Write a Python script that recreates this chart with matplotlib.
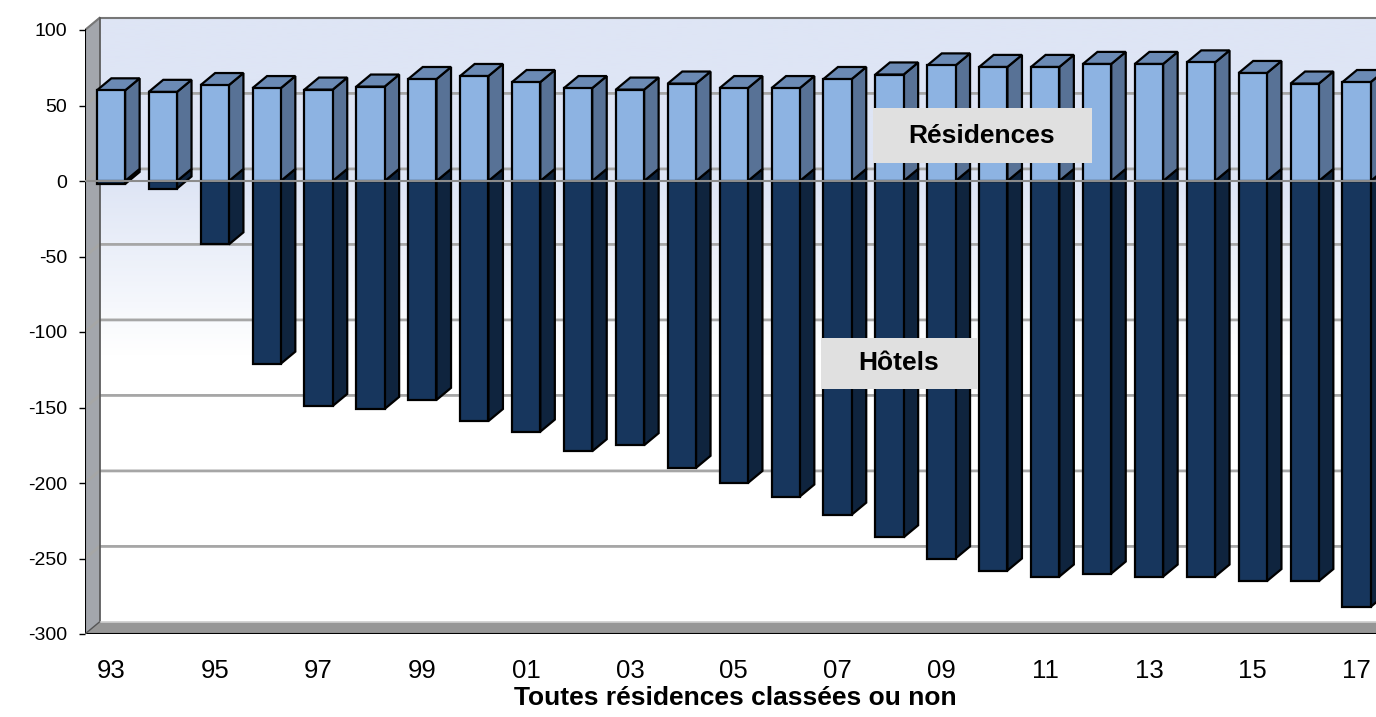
import numpy as np
import matplotlib.pyplot as plt
from matplotlib.patches import Rectangle

# années (axe des catégories)
years = ['93', '94', '95', '96', '97', '98', '99', '00', '01', '02', '03', '04',
         '05', '06', '07', '08', '09', '10', '11', '12', '13', '14', '15', '16', '17']
residences = [60, 59, 63.5, 61.5, 60.5, 62.5, 67.5, 69.5, 65.5, 61.5, 60.5, 64.5,
              61.5, 61.5, 67.5, 70.5, 76.5, 75.5, 75.5, 77.5, 77.5, 78.5, 71.5, 64.5, 65.5]
hotels = [-2, -5, -42, -121, -149, -151, -145, -159, -166, -179, -175, -190,
          -200, -209, -221, -236, -250, -258, -262, -260, -262, -262, -265, -265, -282]
yticks = [-300, -250, -200, -150, -100, -50, 0, 50, 100]

plt.rcParams['font.family'] = ['Liberation Sans', 'DejaVu Sans']
plt.rcParams['axes.unicode_minus'] = False

# couleurs
POS_FRONT = '#8db3e2'
POS_SIDE = '#587296'
POS_TOP = '#6b8ab4'
NEG_FRONT = '#17365d'
NEG_SIDE = '#0f243e'
GRID = '#a6a6a6'
LW = 1.6

fig = plt.figure(figsize=(13.76, 7.17), dpi=100)
ax = fig.add_axes([85 / 1376, 83 / 717, 1310.5 / 1376, 619.1 / 717])

XL, XR = -0.5, 24.75
DX, DY = 0.28, 8  # profondeur 3D
W = 0.545

# fond du mur (dégradé bleu -> blanc)
ys = np.linspace(100 + DY, -300 + DY, 300)
top = np.array([222, 229, 245]) / 255
t = np.clip((ys + 115) / 115, 0, 1)[:, None]
grad = top * t + (1 - t)
ax.imshow(grad[:, None, :], extent=[XL + DX, XR, -300 + DY, 100 + DY],
          aspect='auto', zorder=0)

# mur de gauche
ax.fill([XL, XL, XL + DX, XL + DX], [-300, 100, 100 + DY, -300 + DY],
        color='#a3a6ac', zorder=1)
# sol
ax.fill([XL, XR, XR, XL + DX], [-300, -300, -300 + DY, -300 + DY],
        color='#969696', zorder=1)

# quadrillage
for v in yticks[1:-1]:
    ax.plot([XL, XL + DX, XR], [v, v + DY, v + DY], color=GRID, lw=2, zorder=1.5)

# bords
ax.plot([XL + DX, XR], [100 + DY, 100 + DY], color='#777777', lw=1.5, zorder=1.6)
ax.plot([XL, XL + DX], [100, 100 + DY], color='#777777', lw=1.5, zorder=1.6)
ax.plot([XL + DX, XL + DX], [-300 + DY, 100 + DY], color='#555555', lw=1.2, zorder=1.6)
ax.plot([XL + DX, XR], [-300 + DY, -300 + DY], color='#d0d0d0', lw=1.2, zorder=1.6)
ax.plot([XL, XL], [-300, 100], color='black', lw=1.5, zorder=1.7)
ax.plot([XL, XR], [-300, -300], color='black', lw=1.5, zorder=1.7)
ax.plot([XL, XL + DX], [-300, -300 + DY], color='#555555', lw=1, zorder=1.7)

x = np.arange(len(years))

# Hôtels (négatif)
for xi, v in zip(x, hotels):
    r = xi + W / 2
    ax.fill([r, r + DX, r + DX, r], [0, DY, v + DY, v], facecolor=NEG_SIDE,
            edgecolor='black', lw=LW, zorder=2.8)
ax.bar(x, hotels, W, color=NEG_FRONT, edgecolor='black', lw=LW, zorder=3)

# Résidences (positif)
for xi, v in zip(x, residences):
    l, r = xi - W / 2, xi + W / 2
    ax.fill([r, r + DX, r + DX, r], [0, DY, v + DY, v], facecolor=POS_SIDE,
            edgecolor='black', lw=LW, zorder=3.2)
    ax.fill([l, l + DX, r + DX, r], [v, v + DY, v + DY, v], facecolor=POS_TOP,
            edgecolor='black', lw=LW, zorder=3.2)
ax.bar(x, residences, W, color=POS_FRONT, edgecolor='black', lw=LW, zorder=3.4)

ax.plot([XL, XR], [0, 0], color='#8c8c8c', lw=1.5, zorder=4)

ax.set_xlim(XL, XR)
ax.set_ylim(-300, 110)
ax.set_yticks(yticks)
ax.set_xticks(x[::2], years[::2])
ax.tick_params(axis='y', length=4, width=1, pad=9, labelsize=14)
ax.tick_params(axis='x', length=0, pad=18, labelsize=18.5)
for s in ax.spines.values():
    s.set_visible(False)

# étiquettes des séries
fig.add_artist(Rectangle((873 / 1376, 1 - 163 / 717), 219 / 1376, 55 / 717,
                         transform=fig.transFigure, facecolor='#e0e0e0',
                         edgecolor='none', zorder=5))
fig.text(981.5 / 1376, 1 - 136 / 717, 'Résidences', ha='center', va='center',
         fontsize=19, fontweight='bold', zorder=6)
fig.add_artist(Rectangle((821 / 1376, 1 - 389 / 717), 157 / 1376, 51 / 717,
                         transform=fig.transFigure, facecolor='#e0e0e0',
                         edgecolor='none', zorder=5))
fig.text(899 / 1376, 1 - 363 / 717, 'Hôtels', ha='center', va='center',
         fontsize=19, fontweight='bold', zorder=6)

fig.text(735 / 1376, 1 - 705 / 717, 'Toutes résidences classées ou non',
         ha='center', va='baseline', fontsize=19, fontweight='bold')

fig.savefig('out.png', dpi=100)
